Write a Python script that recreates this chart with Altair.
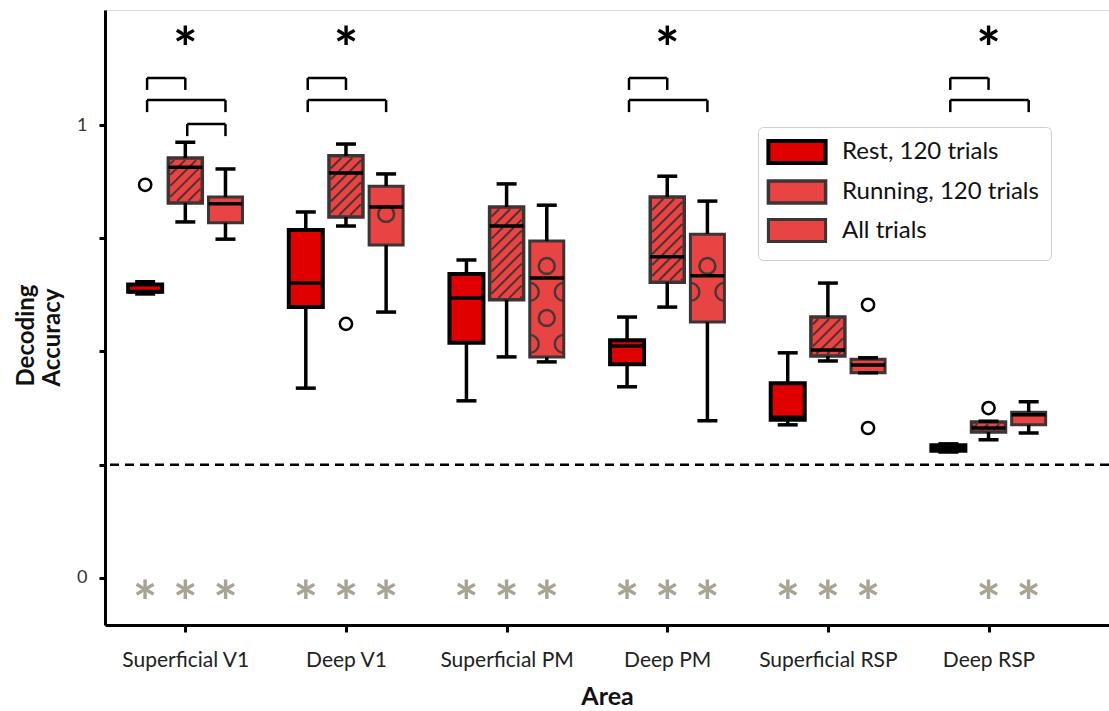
import json
import math
import altair as alt
import pandas as pd

# ---------------- data ----------------
areas = ["Superficial V1", "Deep V1", "Superficial PM", "Deep PM", "Superficial RSP", "Deep RSP"]
conditions = ["Rest, 120 trials", "Running, 120 trials", "All trials"]

rest_wlo = [0.627, 0.419, 0.391, 0.422, 0.338, 0.278]
rest_q1 = [0.632, 0.598, 0.519, 0.472, 0.349, 0.281]
rest_med = [0.632, 0.651, 0.618, 0.512, 0.355, 0.287]
rest_q3 = [0.648, 0.768, 0.671, 0.525, 0.430, 0.293]
rest_whi = [0.654, 0.808, 0.702, 0.576, 0.497, 0.296]

run_wlo = [0.786, 0.777, 0.488, 0.598, 0.479, 0.305]
run_q1 = [0.828, 0.797, 0.614, 0.653, 0.490, 0.322]
run_med = [0.907, 0.894, 0.777, 0.709, 0.503, 0.331]
run_q3 = [0.927, 0.932, 0.819, 0.841, 0.576, 0.344]
run_whi = [0.962, 0.958, 0.870, 0.887, 0.651, 0.346]

all_wlo = [0.748, 0.587, 0.477, 0.347, 0.453, 0.320]
all_q1 = [0.784, 0.735, 0.488, 0.565, 0.453, 0.338]
all_med = [0.826, 0.819, 0.662, 0.667, 0.470, 0.360]
all_q3 = [0.841, 0.865, 0.744, 0.759, 0.483, 0.366]
all_whi = [0.903, 0.892, 0.823, 0.832, 0.486, 0.389]

outlier_area = ["Superficial V1", "Deep V1", "Superficial RSP", "Superficial RSP", "Deep RSP"]
outlier_cond = ["Rest, 120 trials", "Running, 120 trials", "All trials", "All trials", "Running, 120 trials"]
outlier_value = [0.868, 0.561, 0.603, 0.331, 0.375]

chance_level = [0.25]

sig_areas = ["Superficial V1", "Deep V1", "Deep PM", "Deep RSP"]
sig_level = 1.199

bracket_area = ["Superficial V1", "Superficial V1", "Superficial V1",
                "Deep V1", "Deep V1", "Deep PM", "Deep PM", "Deep RSP", "Deep RSP"]
bracket_from = ["Rest, 120 trials", "Rest, 120 trials", "Running, 120 trials",
                "Rest, 120 trials", "Rest, 120 trials", "Rest, 120 trials", "Rest, 120 trials",
                "Rest, 120 trials", "Rest, 120 trials"]
bracket_to = ["Running, 120 trials", "All trials", "All trials",
              "Running, 120 trials", "All trials", "Running, 120 trials", "All trials",
              "Running, 120 trials", "All trials"]
bracket_level = [1.104, 1.055, 1.002, 1.104, 1.055, 1.104, 1.055, 1.104, 1.055]

# above-chance markers: every box except Rest in Deep RSP
above_chance_missing = [("Deep RSP", "Rest, 120 trials")]
above_chance_level = -0.024

# ---------------- layout constants ----------------
W, H = 1004, 615
XDOM = [-0.5, 5.75]
YDOM = [-0.104, 1.254]
PXX = W / (XDOM[1] - XDOM[0])
PXY = H / (YDOM[1] - YDOM[0])
GROUP_OFF = 0.25
BOX_HALF = 17 / PXX
CAP_HALF = 10 / PXX
LEG = 12 / PXY

fills = ["#e00000", "#e84444", "#e84444"]
strokes = ["#000000", "#3d3535", "#3d3535"]
widths = [4, 3, 3]
FONT = "Lato"

stats = {
    conditions[0]: (rest_wlo, rest_q1, rest_med, rest_q3, rest_whi),
    conditions[1]: (run_wlo, run_q1, run_med, run_q3, run_whi),
    conditions[2]: (all_wlo, all_q1, all_med, all_q3, all_whi),
}


def xpos(area, cond):
    return areas.index(area) + (conditions.index(cond) - 1) * GROUP_OFF


rows = []
for cond in conditions:
    wlo, q1, med, q3, whi = stats[cond]
    for i, a in enumerate(areas):
        cx = xpos(a, cond)
        rows.append(dict(area=a, cond=cond, x=cx, xl=cx - BOX_HALF, xr=cx + BOX_HALF,
                         cl=cx - CAP_HALF, cr=cx + CAP_HALF,
                         wlo=wlo[i], q1=q1[i], med=med[i], q3=q3[i], whi=whi[i]))
boxes = pd.DataFrame(rows)

# hatch pattern for Running boxes
hatch = []
S = 11.0
for _, r in boxes[boxes.cond == conditions[1]].iterrows():
    X0, X1 = r.xl * PXX + 2, r.xr * PXX - 2
    Y0, Y1 = r.q1 * PXY + 2, r.q3 * PXY - 2
    if Y1 <= Y0:
        continue
    kmin = math.ceil((Y0 - X1) / S)
    kmax = math.floor((Y1 - X0) / S)
    for k in range(kmin, kmax + 1):
        c = k * S
        xa = max(X0, Y0 - c)
        xb = min(X1, Y1 - c)
        if xb - xa > 1:
            hatch.append(dict(x=xa / PXX, x2=xb / PXX, y=(xa + c) / PXY, y2=(xb + c) / PXY))
hatch = pd.DataFrame(hatch)

# circle pattern for All boxes
RC = 9.0
full_c, half_l, half_r = [], [], []
for _, r in boxes[boxes.cond == conditions[2]].iterrows():
    Y0, Y1 = r.q1 * PXY, r.q3 * PXY
    kmin = math.ceil((Y0 + RC + 1) / 26.0)
    kmax = math.floor((Y1 - RC - 1) / 26.0)
    for k in range(kmin, kmax + 1):
        yv = k * 26.0 / PXY
        if k % 2 == 0:
            full_c.append(dict(x=r.x, y=yv))
        else:
            half_l.append(dict(x=r.xl, y=yv))
            half_r.append(dict(x=r.xr, y=yv))
full_c = pd.DataFrame(full_c, columns=["x", "y"])
half_l = pd.DataFrame(half_l, columns=["x", "y"])
half_r = pd.DataFrame(half_r, columns=["x", "y"])

outliers = pd.DataFrame(dict(area=outlier_area, cond=outlier_cond, v=outlier_value))
outliers["x"] = [xpos(a, c) for a, c in zip(outlier_area, outlier_cond)]

br = pd.DataFrame(dict(area=bracket_area, f=bracket_from, t=bracket_to, lev=bracket_level))
br["x1"] = [xpos(a, f) + 0.012 for a, f in zip(bracket_area, bracket_from)]
br["x2"] = [xpos(a, t) for a, t in zip(bracket_area, bracket_to)]
br["low"] = br["lev"] - LEG
legs = pd.concat([
    pd.DataFrame(dict(x=br.x1, y=br.lev, y2=br.low)),
    pd.DataFrame(dict(x=br.x2, y=br.lev, y2=br.low)),
])

sig = pd.DataFrame(dict(x=[areas.index(a) for a in sig_areas], y=[sig_level] * len(sig_areas)))

ac = []
for a in areas:
    for c in conditions:
        if (a, c) not in above_chance_missing:
            ac.append(dict(x=xpos(a, c), y=above_chance_level))
ac = pd.DataFrame(ac)

chance = pd.DataFrame(dict(v=chance_level))

# ---------------- scales / axes ----------------
label_expr = json.dumps(areas) + "[datum.value]"
xscale = alt.Scale(domain=XDOM, nice=False, zero=False)
yscale = alt.Scale(domain=YDOM, nice=False, zero=False)
xaxis = alt.Axis(values=[0, 1, 2, 3, 4, 5], labelExpr=label_expr, title="Area",
                 grid=False, domainColor="black", domainWidth=3, tickColor="black",
                 tickWidth=3, tickSize=7, labelPadding=17, labelFont=FONT, labelFontSize=21,
                 labelColor="#222", titleFont=FONT, titleFontSize=25, titleFontWeight="bold",
                 titleColor="#111", titlePadding=14)
yaxis = alt.Axis(values=[0, 0.25, 0.5, 0.75, 1],
                 labelExpr="datum.value == 0 ? '0' : (datum.value == 1 ? '1' : '')",
                 title=["Decoding", "Accuracy"], grid=False, domainColor="black", domainWidth=3,
                 tickColor="black", tickWidth=3, tickSize=6, labelPadding=12, labelFont=FONT,
                 labelFontSize=18, labelColor="#333", titleFont=FONT, titleFontSize=24,
                 titleFontWeight="bold", titleColor="#111", titlePadding=12,
                 titleAlign="left", titleY=376)


def X(f):
    return alt.X(f, type="quantitative", scale=xscale, axis=xaxis)


def Y(f):
    return alt.Y(f, type="quantitative", scale=yscale, axis=yaxis)


legend = alt.Legend(title=None, orient="none", legendX=653, legendY=117,
                    symbolType="M-2.6,-1H2.6V1H-2.6Z", symbolSize=484,
                    symbolOffset=14, labelFont=FONT, labelFontSize=24, labelColor="#111",
                    labelOffset=32, labelLimit=400, rowPadding=3, padding=12,
                    strokeColor="#cfcfcf", cornerRadius=5, fillColor="white")

boxes_layer = alt.Chart(boxes).mark_rect().encode(
    x=X("xl"), x2="xr", y=Y("q1"), y2="q3",
    fill=alt.Fill("cond:N", scale=alt.Scale(domain=conditions, range=fills), legend=legend, sort=conditions),
    stroke=alt.Stroke("cond:N", scale=alt.Scale(domain=conditions, range=strokes), legend=legend, sort=conditions),
    strokeWidth=alt.StrokeWidth("cond:N", scale=alt.Scale(domain=conditions, range=widths), legend=legend, sort=conditions),
)

hatch_layer = alt.Chart(hatch).mark_rule(color="#2a2a2a", strokeWidth=2, opacity=0.8).encode(
    x=X("x"), x2="x2", y=Y("y"), y2="y2")

circ_layer = alt.Chart(full_c).mark_point(shape="circle", size=254, filled=False,
                                          color="#333333", strokeWidth=2.5, opacity=0.85).encode(
    x=X("x"), y=Y("y"))
halfl_layer = alt.Chart(half_l).mark_arc(radius=10.2, radius2=7.8, theta=0, theta2=math.pi,
                                         color="#333333", opacity=0.85).encode(x=X("x"), y=Y("y"))
halfr_layer = alt.Chart(half_r).mark_arc(radius=10.2, radius2=7.8, theta=math.pi, theta2=2 * math.pi,
                                         color="#333333", opacity=0.85).encode(x=X("x"), y=Y("y"))

wl = alt.Chart(boxes).mark_rule(color="black", strokeWidth=3.5).encode(x=X("x"), y=Y("wlo"), y2="q1")
wh = alt.Chart(boxes).mark_rule(color="black", strokeWidth=3.5).encode(x=X("x"), y=Y("q3"), y2="whi")
cl = alt.Chart(boxes).mark_rule(color="black", strokeWidth=3.5).encode(x=X("cl"), x2="cr", y=Y("wlo"))
ch = alt.Chart(boxes).mark_rule(color="black", strokeWidth=3.5).encode(x=X("cl"), x2="cr", y=Y("whi"))
med = alt.Chart(boxes).mark_rule(color="black", strokeWidth=3.5).encode(x=X("xl"), x2="xr", y=Y("med"))

out_layer = alt.Chart(outliers).mark_point(shape="circle", size=150, filled=True, fill="white",
                                           stroke="black", strokeWidth=2.5, opacity=1).encode(
    x=X("x"), y=Y("v"))

chance_layer = alt.Chart(chance).mark_rule(color="black", strokeWidth=2.5, strokeDash=[9, 6]).encode(
    y=Y("v"))

br_h = alt.Chart(br).mark_rule(color="black", strokeWidth=2.5).encode(x=X("x1"), x2="x2", y=Y("lev"))
br_v = alt.Chart(legs).mark_rule(color="black", strokeWidth=2.5).encode(x=X("x"), y=Y("y"), y2="y2")

SIG_FS = 58
AC_FS = 58
sig_layer = alt.Chart(sig).mark_text(text="*", font=FONT, fontSize=SIG_FS, fontWeight="bold",
                                     color="black", baseline="alphabetic", dy=round(0.58 * SIG_FS)).encode(
    x=X("x"), y=Y("y"))
ac_layer = alt.Chart(ac).mark_text(text="*", font=FONT, fontSize=AC_FS, fontWeight="bold",
                                   color="#a8a494", baseline="alphabetic", dy=round(0.58 * AC_FS)).encode(
    x=X("x"), y=Y("y"))

chart = alt.layer(
    chance_layer, boxes_layer, hatch_layer, circ_layer, halfl_layer, halfr_layer,
    wl, wh, cl, ch, med, out_layer, br_h, br_v, sig_layer, ac_layer,
).properties(
    width=W, height=H,
    autosize=alt.AutoSizeParams(type="none"),
    padding={"left": 105, "top": 10, "right": 0, "bottom": 86},
).configure_view(stroke=None).configure(background="white")

chart.save("out.html", embed_options={"renderer": "svg", "actions": False})
